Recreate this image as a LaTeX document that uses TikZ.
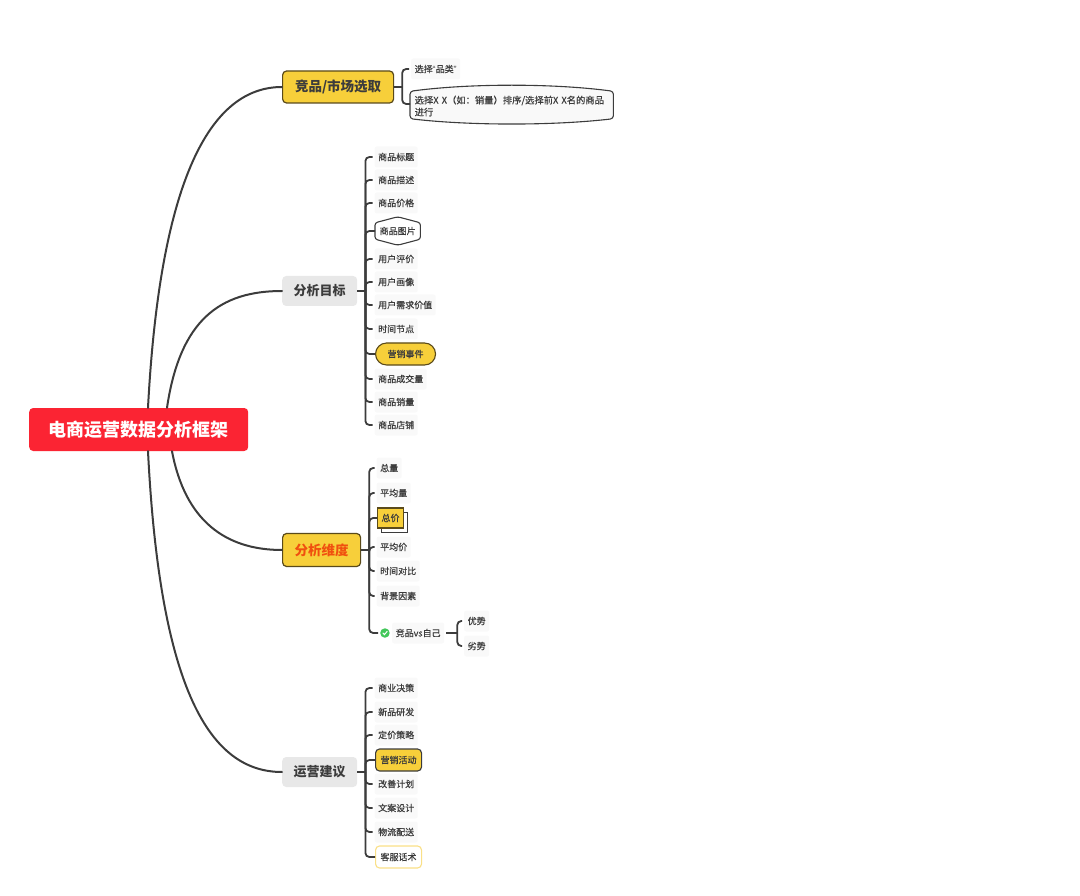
\documentclass[tikz,border=0pt]{standalone}
\usepackage{fontspec}
\setmainfont{Noto Sans CJK SC}
\newfontfamily\leaffont[FakeBold=0.5]{Noto Sans CJK SC}
\newfontfamily\latinq{Liberation Sans}
\usetikzlibrary{calc,backgrounds,shadows}
\definecolor{ink}{HTML}{3C3C3C}
\definecolor{gold}{HTML}{F7CF3A}
\definecolor{goldedge}{HTML}{5A4A1A}
\definecolor{leafbg}{HTML}{F9F9F9}
\definecolor{graybg}{HTML}{E8E8E8}
\definecolor{rootred}{HTML}{FB2433}
\tikzset{
  x=1pt,y=-1pt,
  trunk/.style={draw=ink,line width=2pt,line cap=round},
  stem/.style={draw=ink,line width=1.8pt,rounded corners=4pt,shorten >=2pt},
  feed/.style={draw=ink,line width=1.8pt},
  rootbox/.style={fill=rootred,text=white,rounded corners=4pt,minimum width=219pt,minimum height=43pt,inner sep=0pt,anchor=west,font=\fontsize{18}{20}\selectfont\bfseries},
  goldbox/.style={fill=gold,draw=goldedge,line width=1.2pt,rounded corners=4pt,minimum height=32pt,inner sep=0pt,anchor=west,text=ink,font=\fontsize{13.5}{15}\selectfont\bfseries},
  graybox/.style={fill=graybg,text=ink,rounded corners=4pt,minimum width=75pt,minimum height=30pt,inner sep=0pt,anchor=west,font=\fontsize{13}{15}\selectfont\bfseries},
  leaf/.style={fill=leafbg,text=ink,rounded corners=2pt,inner xsep=3.5pt,inner ysep=0pt,minimum height=21pt,anchor=west,font=\fontsize{9}{11}\leaffont\selectfont},
  accent/.style={text=ink,inner sep=0pt,anchor=west,font=\fontsize{9}{11}\leaffont\selectfont},
}
\begin{document}
\begin{tikzpicture}
\useasboundingbox (0,0) rectangle (1080,896);

% root and first-level nodes
\node[rootbox] (root) at (29,429.5) {电商运营数据分析框架};
\node[goldbox,minimum width=111pt] (p1) at (282,87) {竞品/市场选取};
\node[graybox] (p2) at (282,291) {分析目标};
\node[goldbox,minimum width=78pt,minimum height=33pt,text={rgb,255:red,240;green,80;blue,15}] (p3) at (282,550) {分析维度};
\node[graybox] (p4) at (282,772) {运营建议};

\coordinate (r1) at ($(root.north west)+(119,0)$);
\coordinate (r2) at ($(root.north west)+(138,0)$);
\coordinate (r3) at ($(root.south west)+(143,0)$);
\coordinate (r4) at ($(root.south west)+(119,0)$);

\draw[trunk] (r1) .. controls ($(r1)+(12,-228)$) and ($(p1.west)+(-72,0)$) .. (p1.west);
\draw[trunk] (r2) .. controls ($(r2)+(13,-88)$) and ($(p2.west)+(-62,0)$) .. (p2.west);
\draw[trunk] (r3) .. controls ($(r3)+(13,69)$) and ($(p3.west)+(-57,0)$) .. (p3.west);
\draw[trunk] (r4) .. controls ($(r4)+(12,239)$) and ($(p4.west)+(-72,0)$) .. (p4.west);

% junctions on each bracket
\coordinate (j1) at ($(p1.east)+(8,0)$);
\coordinate (j2) at ($(p2.east)+(8,0)$);
\coordinate (j3) at ($(p3.east)+(8,0)$);
\coordinate (j4) at ($(p4.east)+(8,0)$);
\draw[feed] (p1.east) -- (j1);
\draw[feed] (p2.east) -- (j2);
\draw[feed] (p3.east) -- (j3);
\draw[feed] (p4.east) -- (j4);

% group 1
\node[leaf] (a1) at (411,69) {选择{\latinq “}品类{\latinq ”}};
\node[accent,text width=194pt,align=left,font=\fontsize{9.3}{12}\leaffont\selectfont,minimum width=201pt,minimum height=41pt,inner xsep=4.5pt] (a2) at (410,104) {\rule{0pt}{12pt}选择X X（如：销量）排序/选择前X X名的商品\\进行};
\begin{pgfonlayer}{background}
\draw[fill=leafbg,draw=ink,line width=1.1pt,rounded corners=3pt]
  ($(a2.north west)+(0,8)$) .. controls ($(a2.north west)+(60,0)$) and ($(a2.north east)+(-60,0)$) .. ($(a2.north east)+(0,8)$)
  -- ($(a2.south east)+(0,-6)$) .. controls ($(a2.south east)+(-60,1)$) and ($(a2.south west)+(60,1)$) .. ($(a2.south west)+(0,-6)$) -- cycle;
\end{pgfonlayer}
\draw[stem] (j1) |- (a1.west);
\draw[stem,shorten >=0pt] (j1) |- (a2.west);

% group 2
\foreach \n/\y/\t in {1/157/商品标题,2/180/商品描述,3/203/商品价格,5/259/用户评价,6/282/用户画像,7/305/用户需求价值,8/329/时间节点,10/379/商品成交量,11/402/商品销量,12/425/商品店铺}{
  \node[leaf] (b\n) at (374.5,\y) {\t};
  \draw[stem] (j2) |- (b\n.west);
}
\node[accent,minimum width=45pt,minimum height=28pt,align=center] (b4) at (375,231) {商品图片};
\draw[draw=ink,line width=1.1pt,rounded corners=2.5pt]
  (b4.north) -- ($(b4.north east)+(0,6)$) -- ($(b4.south east)+(0,-6)$) -- (b4.south)
  -- ($(b4.south west)+(0,-6)$) -- ($(b4.north west)+(0,6)$) -- cycle;
\draw[stem,shorten >=0pt] (j2) |- (b4.west);
\node[accent,fill=gold,draw=goldedge,line width=1.1pt,rounded corners=11pt,minimum width=60pt,minimum height=22pt,align=center] (b9) at (375,354) {营销事件};
\draw[stem,shorten >=0pt] (j2) |- (b9.west);

% group 3
\foreach \n/\y/\t in {1/468/总量,2/493/平均量,4/547/平均价,5/571/时间对比,6/596/背景因素}{
  \node[leaf] (c\n) at (376.5,\y) {\t};
  \draw[stem] (j3) |- (c\n.west);
}
\node[accent,fill=gold,draw=goldedge,line width=1.1pt,minimum width=26pt,minimum height=20pt,align=center,
  copy shadow={shadow xshift=3.5pt,shadow yshift=-4pt,fill=white,draw=ink,line width=.8pt}] (c3) at (377,518) {总价};
\draw[stem,shorten >=0pt] (j3) |- (c3.west);
\node[circle,fill={rgb,255:red,66;green,199;blue,90},minimum size=9.5pt,inner sep=0pt,anchor=west] (chk) at (380,633) {};
\draw[white,line width=1pt,line cap=round] ($(chk.center)+(-2,0)$) -- ($(chk.center)+(-.5,1.6)$) -- ($(chk.center)+(2.2,-1.6)$);
\draw[stem] (j3) |- (chk.west);
\node[leaf] (c7) at (392,633) {竞品vs自己};
\node[leaf] (d1) at (464,621) {优势};
\node[leaf] (d2) at (464,646) {劣势};
\coordinate (j5) at ($(c7.east)+(13,0)$);
\draw[feed,shorten <=2pt] (c7.east) -- (j5);
\draw[stem] (j5) |- (d1.west);
\draw[stem] (j5) |- (d2.west);

% group 4
\foreach \n/\y/\t in {1/688/商业决策,2/712/新品研发,3/735/定价策略,5/784/改善计划,6/808/文案设计,7/832/物流配送}{
  \node[leaf] (e\n) at (374.5,\y) {\t};
  \draw[stem] (j4) |- (e\n.west);
}
\node[accent,fill=gold,draw=ink,line width=1.1pt,rounded corners=4pt,minimum width=46pt,minimum height=22pt,align=center] (e4) at (375,760) {营销活动};
\draw[stem,shorten >=0pt] (j4) |- (e4.west);
\node[accent,fill=white,draw={rgb,255:red,250;green,224;blue,135},line width=1.1pt,rounded corners=4pt,minimum width=46pt,minimum height=22pt,align=center] (e8) at (375,857) {客服话术};
\draw[stem,shorten >=0pt] (j4) |- (e8.west);
\end{tikzpicture}
\end{document}
